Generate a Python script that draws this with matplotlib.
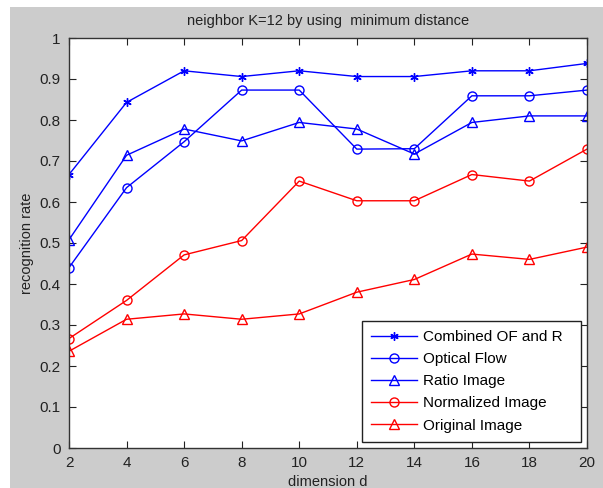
import matplotlib
matplotlib.use("Agg")
import matplotlib.pyplot as plt
from matplotlib.patches import Rectangle

dims = [2, 4, 6, 8, 10, 12, 14, 16, 18, 20]
combined = [0.667, 0.843, 0.920, 0.906, 0.920, 0.906, 0.906, 0.920, 0.920, 0.938]
optical = [0.440, 0.635, 0.747, 0.873, 0.873, 0.729, 0.730, 0.859, 0.859, 0.873]
ratio = [0.508, 0.714, 0.778, 0.749, 0.794, 0.778, 0.717, 0.794, 0.810, 0.810]
normalized = [0.267, 0.360, 0.471, 0.506, 0.651, 0.603, 0.603, 0.667, 0.651, 0.729]
original = [0.236, 0.314, 0.327, 0.314, 0.327, 0.380, 0.411, 0.473, 0.460, 0.490]

labels = ["Combined OF and R", "Optical Flow", "Ratio Image", "Normalized Image", "Original Image"]
title = "neighbor K=12 by using  minimum distance"
xlabel = "dimension d"
ylabel = "recognition rate"
xticks = [2, 4, 6, 8, 10, 12, 14, 16, 18, 20]
yticks = [0, 0.1, 0.2, 0.3, 0.4, 0.5, 0.6, 0.7, 0.8, 0.9, 1]
ytick_labels = ["0", "0.1", "0.2", "0.3", "0.4", "0.5", "0.6", "0.7", "0.8", "0.9", "1"]

plt.rcParams['font.family'] = ['Liberation Sans', 'DejaVu Sans']

W, H = 603, 488
fig = plt.figure(figsize=(W / 100, H / 100), dpi=100, facecolor='white')
fig.patches.append(Rectangle((10 / W, 0), 1 - 10 / W, 1 - 7 / H, transform=fig.transFigure,
                             facecolor='#cccccc', edgecolor='none', zorder=-10))

ax = fig.add_axes([69 / W, 1 - 448 / H, (587 - 69) / W, (448 - 38) / H])
ax.set_facecolor('white')

blue = '#0000ff'
red = '#ff0000'
kw = dict(linewidth=1.0, markeredgewidth=1.0, markerfacecolor='none')
ax.plot(dims, combined, color=blue, marker=(6, 2, 0), markersize=6, label=labels[0], **kw)
ax.plot(dims, optical, color=blue, marker='o', markersize=6.5, label=labels[1], **kw)
ax.plot(dims, ratio, color=blue, marker='^', markersize=7, label=labels[2], **kw)
ax.plot(dims, normalized, color=red, marker='o', markersize=6.5, label=labels[3], **kw)
ax.plot(dims, original, color=red, marker='^', markersize=7, label=labels[4], **kw)

ax.set_xlim(2, 20)
ax.set_ylim(0, 1)
ax.set_xticks(xticks)
ax.set_xticklabels([str(x) for x in xticks])
ax.set_yticks(yticks)
ax.set_yticklabels(ytick_labels)
ax.tick_params(direction='in', top=True, right=True, length=5, width=0.8,
               labelsize=11, colors='#222222', pad=6)
for s in ax.spines.values():
    s.set_linewidth(1.0)
    s.set_color('#333333')

ax.set_title(title, fontsize=10.5, color='#222222', pad=9)
ax.set_xlabel(xlabel, fontsize=10.5, color='#222222', labelpad=3)
ax.set_ylabel(ylabel, fontsize=10.5, color='#222222', labelpad=4)

leg = ax.legend(loc='upper left', bbox_to_anchor=(362 / W, 1 - 440 / H, 219 / W, 119 / H),
                bbox_transform=fig.transFigure, borderaxespad=0, mode='expand', fontsize=11,
                handlelength=3.0, handletextpad=0.4, labelspacing=0.53,
                borderpad=0.6, fancybox=False, framealpha=1, edgecolor='#222222')
leg.get_frame().set_linewidth(1.0)

fig.savefig('out.png', dpi=100, facecolor=fig.get_facecolor())
